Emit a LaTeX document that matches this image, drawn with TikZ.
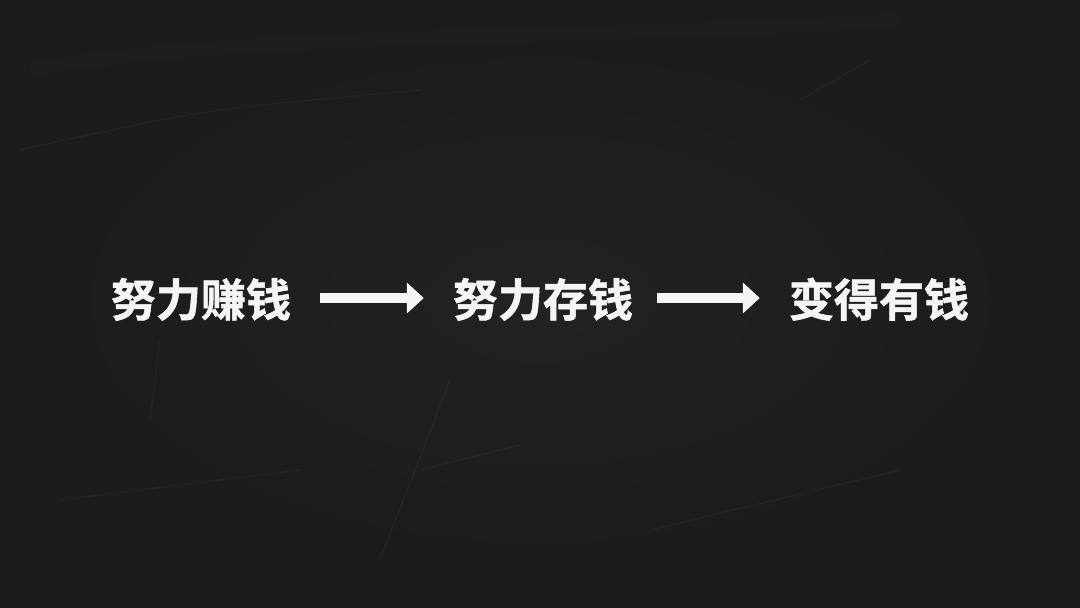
\documentclass[tikz,border=0pt]{standalone}
\usepackage{fontspec}
\newfontfamily\cjk{Noto Sans CJK SC}[BoldFont={Noto Sans CJK SC Bold},BoldFeatures={FakeBold=1.2}]
\usetikzlibrary{arrows.meta}
\definecolor{board}{HTML}{1C1C1C}
\definecolor{boardlight}{HTML}{272727}
\definecolor{chalk}{HTML}{F6F4F7}
\begin{document}
\begin{tikzpicture}[x=1pt,y=1pt,
  label/.style={font=\cjk\bfseries\fontsize{45}{45}\selectfont, text=chalk, inner sep=0pt, text height=0.8em, text depth=0.1em},
  flow/.style={draw=chalk, line width=10pt, -{Triangle[length=17pt,width=30pt]}},
  streak/.style={draw=white, opacity=0.04, line width=1.2pt}]
\fill[board] (0,0) rectangle (1080,-608);
\shade[inner color=boardlight, outer color=board, opacity=0.6] (540,-300) ellipse (520 and 280);
\draw[streak, line width=14pt, opacity=0.012] (30,-70) .. controls (250,-30) and (600,-40) .. (900,-20);
\draw[streak] (20,-150) .. controls (200,-110) .. (420,-90);
\draw[streak] (60,-500) -- (300,-470);
\draw[streak] (420,-470) .. controls (480,-455) .. (520,-445);
\draw[streak] (650,-530) -- (900,-470);
\draw[streak] (800,-100) -- (870,-60);
\draw[streak] (150,-420) -- (160,-340);
\draw[streak] (380,-560) -- (450,-380);
\useasboundingbox (0,0) rectangle (1080,-608);
\node[label] (a) at (201,-313) {努力赚钱};
\node[label] (b) at (543,-313) {努力存钱};
\node[label] (c) at (879,-313) {变得有钱};
\draw[flow, shorten <=29pt, shorten >=29pt] ([yshift=15pt]a.east) -- ([yshift=15pt]b.west);
\draw[flow, shorten <=24pt, shorten >=29pt] ([yshift=15pt]b.east) -- ([yshift=15pt]c.west);
\end{tikzpicture}
\end{document}
